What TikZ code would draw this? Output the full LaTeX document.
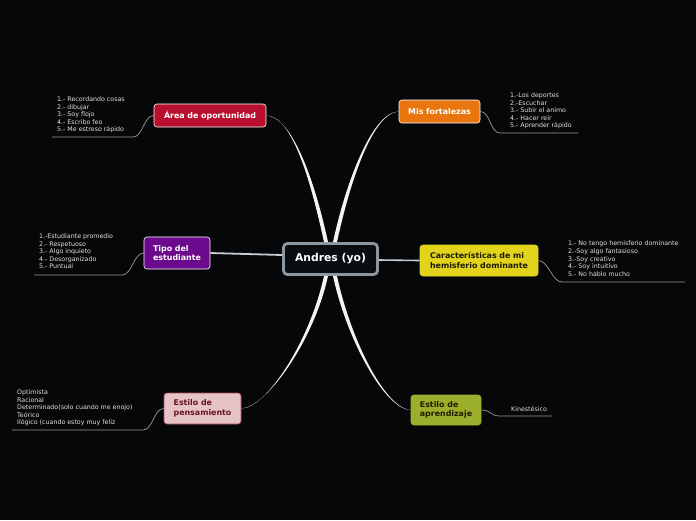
\documentclass[tikz,border=0pt]{standalone}
\usepackage{fontspec}
\setmainfont{DejaVu Sans}
\definecolor{bg}{HTML}{050709}
\definecolor{leafc}{HTML}{E2E2E2}
\definecolor{linec}{HTML}{9A9A9A}
\definecolor{cfill}{HTML}{0B0E11}
\definecolor{cborder}{HTML}{8D979F}
\definecolor{crimson}{HTML}{B80F2E}
\definecolor{orangec}{HTML}{E8750E}
\definecolor{yellowc}{HTML}{E2D31C}
\definecolor{purplec}{HTML}{6B0A8C}
\definecolor{pinkc}{HTML}{E6C3C7}
\definecolor{pinkb}{HTML}{B04A5A}
\definecolor{pinkt}{HTML}{6A1224}
\definecolor{olivec}{HTML}{9CAF2C}
\definecolor{darkt}{HTML}{1E1C00}
\definecolor{branchc}{HTML}{F4F4F4}
\definecolor{graybr}{HTML}{C8CCD0}
\begin{document}
\begin{tikzpicture}[x=1pt,y=-1pt,
  topic/.style={rounded corners=3pt, draw=white, line width=0.6pt,
    font=\fontsize{7.9}{9.4}\selectfont\bfseries, align=left, inner sep=0pt, text=white},
  leaf/.style={font=\fontsize{6.3}{7.6}\selectfont, text=leafc, align=left, inner sep=0pt, anchor=north west},
  leafline/.style={draw=linec, line width=0.7pt},
  branch/.style={fill=branchc}]
\fill[bg] (0,0) rectangle (696,520);
\useasboundingbox (0,0) rectangle (696,520);

% central node
\node[rounded corners=4pt, draw=cborder, fill=cfill, line width=2.8pt,
  minimum width=94pt, minimum height=31pt, inner sep=0pt, text=white,
  font=\fontsize{10.8}{12}\selectfont\bfseries] (cen) at (330.5,259) {Andres (yo)};

% topics
\node[topic, fill=crimson, minimum width=112pt, minimum height=23pt] (area) at (210,115.5) {Área de oportunidad};
\node[topic, fill=orangec, minimum width=81pt, minimum height=23pt] (fort) at (439.5,111.5) {Mis fortalezas};
\node[topic, fill=yellowc, draw=yellowc, text=darkt, minimum width=118pt, minimum height=31pt] (carac) at (479,260.5) {Características de mi\\hemisferio dominante};
\node[topic, fill=purplec, minimum width=66pt, minimum height=32pt] (tipo) at (177,253) {Tipo del\\estudiante};
\node[topic, fill=pinkc, draw=pinkb, text=pinkt, minimum width=77pt, minimum height=31pt] (pens) at (202.5,408.5) {Estilo de\\pensamiento};
\node[topic, fill=olivec, draw=olivec, text=darkt, minimum width=70pt, minimum height=30pt] (apren) at (446,410) {Estilo de\\aprendizaje};

% main branches (tapered)
\fill[branch] ([xshift=-6.5pt]cen.north) .. controls +(-14,-65) and +(25,0) .. (area.east)
  .. controls +(25,1.2) and +(-14,-65) .. ([xshift=-2.5pt]cen.north) -- cycle;
\fill[branch] ([xshift=2.5pt]cen.north) .. controls +(14,-65) and +(-25,0) .. (fort.west)
  .. controls +(-25,1.2) and +(14,-65) .. ([xshift=6.5pt]cen.north) -- cycle;
\fill[branch] ([xshift=-6.5pt]cen.south) .. controls +(-14,65) and +(25,0) .. (pens.east)
  .. controls +(25,-1.2) and +(-14,65) .. ([xshift=-2.5pt]cen.south) -- cycle;
\fill[branch] ([xshift=2.5pt]cen.south) .. controls +(14,65) and +(-25,0) .. (apren.west)
  .. controls +(-25,-1.2) and +(14,65) .. ([xshift=6.5pt]cen.south) -- cycle;
\draw[graybr, line width=1.6pt] ([yshift=-1pt]cen.east) -- (carac.west);
\draw[graybr, line width=1.8pt] ([yshift=4pt]cen.west) -- (tipo.east);

% leaves
\node[leaf] (la) at (57,96.5) {1.- Recordando cosas\\2.- dibujar\\3.- Soy flojo\\4.- Escribo feo\\5.- Me estreso rápido};
\coordinate (a0) at (52,137); \coordinate (a1) at (133,137);
\draw[leafline] (area.west) .. controls +(-10,0) and +(10,0) .. (a1) -- (a0);

\node[leaf] (lf) at (510,92.5) {1.-Los deportes\\2.-Escuchar\\3.- Subir el animo\\4.- Hacer reír\\5.- Aprender rápido};
\coordinate (f0) at (500,133); \coordinate (f1) at (578,133);
\draw[leafline] (fort.east) .. controls +(10,0) and +(-10,0) .. (f0) -- (f1);

\node[leaf, font=\fontsize{6.3}{7.9}\selectfont] (lc) at (568,240.3) {1.- No tengo hemisferio dominante\\2.-Soy algo fantasioso\\3.-Soy creativo\\4.- Soy intuitivo\\5.- No hablo mucho};
\coordinate (c0) at (562,282); \coordinate (c1) at (685,282);
\draw[leafline] (carac.east) .. controls +(10,0) and +(-10,0) .. (c0) -- (c1);

\node[leaf] (lt) at (39,233.5) {1.-Estudiante promedio\\2.- Respetuoso\\3.- Algo inquieto\\4.- Desorganizado\\5.- Puntual};
\coordinate (t0) at (34,275); \coordinate (t1) at (122,275);
\draw[leafline] (tipo.west) .. controls +(-10,0) and +(10,0) .. (t1) -- (t0);

\node[leaf] (lp) at (17,389.5) {Optimista\\Racional\\Determinado(solo cuando me enojo)\\Teórico\\Ilógico (cuando estoy muy feliz};
\coordinate (p0) at (12,430); \coordinate (p1) at (143,430);
\draw[leafline] (pens.west) .. controls +(-10,0) and +(10,0) .. (p1) -- (p0);

\node[leaf] (lk) at (511,406.5) {Kinestésico};
\coordinate (k0) at (500,416); \coordinate (k1) at (552,416);
\draw[leafline] (apren.east) .. controls +(10,0) and +(-10,0) .. (k0) -- (k1);
\end{tikzpicture}
\end{document}
